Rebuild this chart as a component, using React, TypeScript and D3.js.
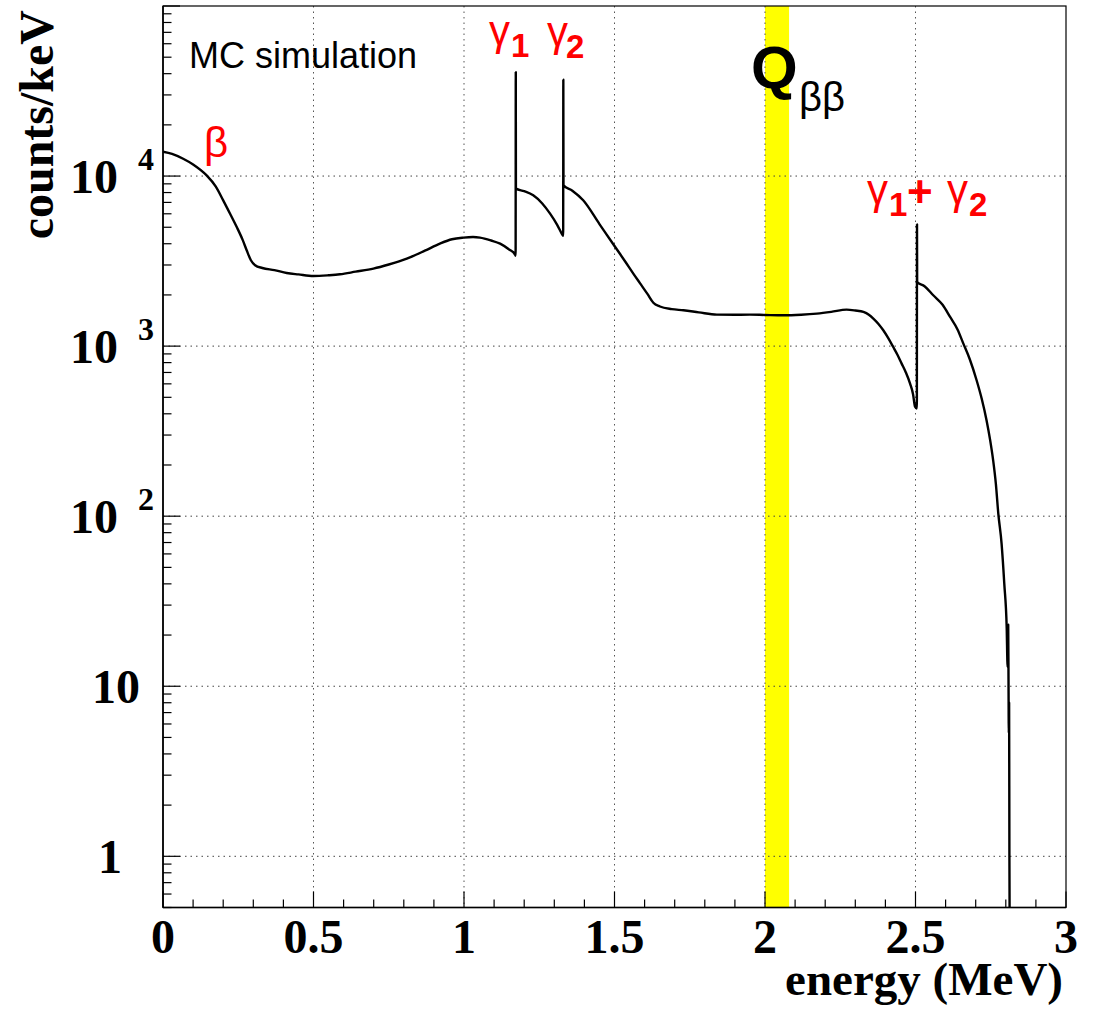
import React from 'react';
import * as d3 from 'd3';

const width = 1093;
const height = 1015;
const margin = { top: 6, right: 27, bottom: 107.5, left: 163 };
const innerW = width - margin.left - margin.right;
const innerH = height - margin.top - margin.bottom;

// simulated Co-60 spectrum (energy in MeV, counts per keV)
const energyMeV = [
  0.0, 0.03, 0.067, 0.1, 0.145, 0.175, 0.2, 0.225, 0.245, 0.265, 0.278, 0.292, 0.306, 0.33, 0.37, 0.411,
  0.45, 0.5, 0.55, 0.588, 0.64, 0.699, 0.75, 0.81, 0.87, 0.92, 0.96, 0.998, 1.03, 1.053, 1.09, 1.12, 1.15,
  1.169, 1.1715, 1.172, 1.1725, 1.2, 1.23, 1.26, 1.286, 1.31, 1.328, 1.3295, 1.33, 1.3305, 1.36, 1.396,
  1.45, 1.496, 1.518, 1.54, 1.5625, 1.585, 1.61, 1.629, 1.651, 1.69, 1.729, 1.78, 1.84, 1.9, 1.95, 2.0,
  2.061, 2.12, 2.172, 2.22, 2.271, 2.3, 2.327, 2.345, 2.36, 2.377, 2.393, 2.41, 2.426, 2.44, 2.454, 2.468,
  2.482, 2.492, 2.4985, 2.5045, 2.505, 2.5055, 2.53, 2.559, 2.59, 2.615, 2.64, 2.659, 2.68, 2.703, 2.72,
  2.736, 2.748, 2.758, 2.767, 2.775, 2.786, 2.795, 2.803, 2.806, 2.808, 2.809, 2.81, 2.811, 2.812, 2.813
];
const countsPerKeV = [
  13900, 13500, 12650, 11700, 10090, 8700, 7200, 5900, 5015, 4200, 3660, 3200, 2990, 2880, 2800, 2692,
  2640, 2585, 2610, 2644, 2740, 2857, 3020, 3270, 3640, 4006, 4250, 4345, 4380, 4345, 4180, 4006, 3700,
  3467, 3400, 40850, 8435, 8150, 7705, 6900, 6010, 5150, 4485, 4450, 36880, 8815, 8200, 7200,
  5220, 3970, 3490, 3060, 2670, 2340, 2020, 1800, 1710, 1650, 1625, 1580, 1532, 1530, 1532, 1525,
  1518, 1530, 1553, 1590, 1640, 1620, 1588, 1530, 1452, 1350, 1239, 1110, 988, 890, 789, 700,
  602, 520, 440, 430, 5200, 2383, 2250, 1991, 1750, 1484, 1250, 1035, 840, 630, 490,
  367, 280, 213, 155, 104, 69, 40, 22, 13, 23, 11, 5.3, 8, 1, 0.3
];

const xTickValues = [0, 0.5, 1, 1.5, 2, 2.5, 3];
const xTickLabels = ['0', '0.5', '1', '1.5', '2', '2.5', '3'];
const yTickValues = [1, 10, 100, 1000, 10000];
const yTickBases = ['1', '10', '10', '10', '10'];
const yTickExponents = ['', '', '2', '3', '4'];

const qbbBand = [2.0, 2.08];

const serif = '"Liberation Serif", "Times New Roman", serif';
const sans = '"Liberation Sans", Arial, Helvetica, sans-serif';

export default function App() {
  const x = d3.scaleLinear().domain([0, 3]).range([0, innerW]);
  const y = d3.scaleLog().domain([0.5, 1e5]).range([innerH, 0]);

  const pts = energyMeV.map((e, i) => [e, countsPerKeV[i]] as [number, number]);
  const line = d3
    .line<[number, number]>()
    .x(d => x(d[0]))
    .y(d => y(d[1]))
    .curve(d3.curveMonotoneX);

  const xMinor = d3.range(0, 30.5, 1).map(v => v / 10);
  const yMinor: number[] = [];
  [0.1, 1, 10, 100, 1000, 10000].forEach(dec => {
    for (let k = 2; k <= 9; k++) {
      const v = dec * k;
      if (v >= 0.5 && v <= 1e5) yMinor.push(v);
    }
  });

  const red = '#ff0000';

  return (
    <div style={{ position: 'absolute', left: 0, top: 0 }}>
      <svg width={width} height={height} style={{ display: 'block', background: '#fff' }}>
        <defs>
          <clipPath id="plotClip">
            <rect x={0} y={0} width={innerW} height={innerH} />
          </clipPath>
        </defs>
        <g transform={`translate(${margin.left},${margin.top})`}>
          {/* Q_bb band */}
          <rect
            x={x(qbbBand[0])}
            y={0}
            width={x(qbbBand[1]) - x(qbbBand[0])}
            height={innerH}
            fill="#ffff00"
          />

          {/* grid */}
          {xTickValues.slice(1, -1).map(v => (
            <line key={'gx' + v} x1={x(v)} x2={x(v)} y1={0} y2={innerH}
              stroke="#555" strokeWidth={1} strokeDasharray="1.5,4" />
          ))}
          {yTickValues.map(v => (
            <line key={'gy' + v} x1={0} x2={innerW} y1={y(v)} y2={y(v)}
              stroke="#444" strokeWidth={1} strokeDasharray="1.5,4" />
          ))}

          {/* spectrum */}
          <path d={line(pts) || ''} fill="none" stroke="#000" strokeWidth={2.4}
            strokeLinejoin="round" clipPath="url(#plotClip)" />

          {/* frame */}
          <rect x={0} y={0} width={innerW} height={innerH} fill="none" stroke="#000" strokeWidth={1.2} />
          <line x1={0} x2={innerW} y1={innerH} y2={innerH} stroke="#000" strokeWidth={1.6} />
          <line x1={0} x2={0} y1={0} y2={innerH} stroke="#000" strokeWidth={1.6} />

          {/* x ticks */}
          {xMinor.map(v => {
            const major = xTickValues.some(t => Math.abs(t - v) < 1e-6);
            return (
              <line key={'tx' + v} x1={x(v)} x2={x(v)} y1={innerH} y2={innerH - (major ? 16 : 8)}
                stroke="#000" strokeWidth={1.2} />
            );
          })}
          {/* y ticks */}
          {yTickValues.concat([1e5]).map(v => (
            <line key={'ty' + v} x1={0} x2={17} y1={y(v)} y2={y(v)} stroke="#000" strokeWidth={1.2} />
          ))}
          {yMinor.map(v => (
            <line key={'tym' + v} x1={0} x2={8.5} y1={y(v)} y2={y(v)} stroke="#000" strokeWidth={1.2} />
          ))}

          {/* x tick labels */}
          {xTickValues.map((v, i) => (
            <text key={'lx' + v} x={x(v)} y={innerH + 45.5} textAnchor="middle"
              fontFamily={serif} fontWeight="bold" fontSize={48}>
              {xTickLabels[i]}
            </text>
          ))}
          {/* y tick labels */}
          {yTickValues.map((v, i) => {
            const exp = yTickExponents[i];
            if (exp) {
              return (
                <g key={'ly' + v}>
                  <text x={-45} y={y(v) + 17} textAnchor="end" fontFamily={serif} fontWeight="bold" fontSize={48}>
                    {yTickBases[i]}
                  </text>
                  <text x={-25} y={y(v) - 6} textAnchor="start" fontFamily={serif} fontWeight="bold" fontSize={32}>
                    {exp}
                  </text>
                </g>
              );
            }
            return (
              <text key={'ly' + v} x={i === 0 ? -41 : -23} y={y(v) + 17} textAnchor="end"
                fontFamily={serif} fontWeight="bold" fontSize={48}>
                {yTickBases[i]}
              </text>
            );
          })}
        </g>

        {/* axis titles */}
        <text x={1063} y={995} textAnchor="end" fontFamily={serif} fontWeight="bold" fontSize={47}>
          energy (MeV)
        </text>
        <text transform="translate(53,10) rotate(-90)" textAnchor="end" fontFamily={serif}
          fontWeight="bold" fontSize={48}>
          counts/keV
        </text>

        {/* annotations */}
        <text x={189} y={68} fontFamily={sans} fontSize={36} fill="#000">MC simulation</text>
        <text x={204} y={157} fontFamily={sans} fontSize={42} fill={red}>β</text>

        <text x={489} y={45} fontFamily={sans} fontSize={42} fill={red}>γ</text>
        <text x={511} y={57} fontFamily={sans} fontWeight="bold" fontSize={33} fill={red}>1</text>
        <text x={547} y={46} fontFamily={sans} fontSize={42} fill={red}>γ</text>
        <text x={566} y={58} fontFamily={sans} fontWeight="bold" fontSize={33} fill={red}>2</text>

        <text x={867} y={204} fontFamily={sans} fontSize={42} fill={red}>γ</text>
        <text x={889} y={216} fontFamily={sans} fontWeight="bold" fontSize={33} fill={red}>1</text>
        <text x={907} y={207} fontFamily={sans} fontWeight="bold" fontSize={44} fill={red}>+</text>
        <text x={947} y={204} fontFamily={sans} fontSize={42} fill={red}>γ</text>
        <text x={969} y={216} fontFamily={sans} fontWeight="bold" fontSize={33} fill={red}>2</text>

        <text x={751} y={88} fontFamily={sans} fontWeight="bold" fontSize={60} fill="#000">Q</text>
        <text x={799} y={111} fontFamily={sans} fontSize={40} fill="#000">ββ</text>
      </svg>
    </div>
  );
}
